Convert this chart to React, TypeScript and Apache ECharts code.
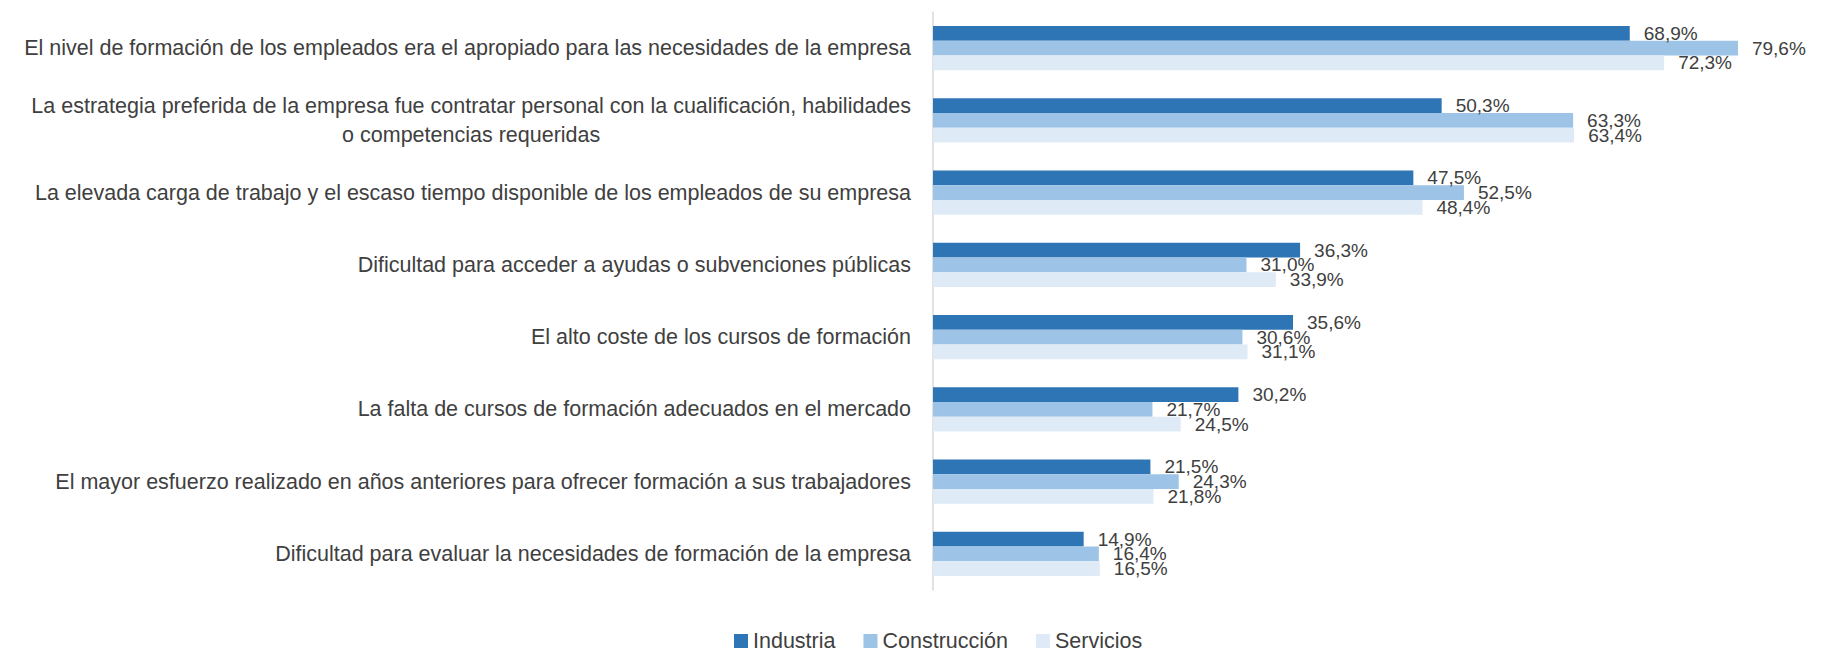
import React, { useEffect, useRef } from "react";
import * as echarts from "echarts";

const categories = [
  "El nivel de formación de los empleados era el apropiado para las necesidades de la empresa",
  "La estrategia preferida de la empresa fue contratar personal con la cualificación, habilidades\no competencias requeridas",
  "La elevada carga de trabajo y el escaso tiempo disponible de los empleados de su empresa",
  "Dificultad para acceder a ayudas o subvenciones públicas",
  "El alto coste de los cursos de formación",
  "La falta de cursos de formación adecuados en el mercado",
  "El mayor esfuerzo realizado en años anteriores para ofrecer formación a sus trabajadores",
  "Dificultad para evaluar la necesidades de formación de la empresa",
];

const industria = [68.9, 50.3, 47.5, 36.3, 35.6, 30.2, 21.5, 14.9];
const construccion = [79.6, 63.3, 52.5, 31.0, 30.6, 21.7, 24.3, 16.4];
const servicios = [72.3, 63.4, 48.4, 33.9, 31.1, 24.5, 21.8, 16.5];

const seriesNames = ["Industria", "Construcción", "Servicios"];
const colors = ["#2E75B6", "#9DC3E6", "#DEEBF7"];

const FONT = "Liberation Sans";
const TEXT = "#404040";

export default function App() {
  const ref = useRef<HTMLDivElement>(null);
  useEffect(() => {
    if (!ref.current) return;
    const chart = echarts.init(ref.current, null, { renderer: "svg" });
    const mk = (name: string, data: number[], color: string) => ({
      name,
      type: "bar",
      data,
      barGap: "0%",
      barCategoryGap: "39%",
      itemStyle: { color },
      label: {
        show: true,
        position: "right",
        distance: 14,
        color: TEXT,
        fontFamily: FONT,
        fontSize: 19,
        formatter: (p: any) => p.value.toFixed(1).replace(".", ",") + "%",
      },
    });
    chart.setOption({
      animation: false,
      textStyle: { fontFamily: FONT },
      grid: { left: 933, right: 83, top: 12, bottom: 62, containLabel: false },
      legend: {
        left: 734,
        top: 630,
        padding: 0,
        itemWidth: 14,
        itemHeight: 14,
        itemGap: 28,
        icon: "rect",
        textStyle: { color: TEXT, fontSize: 21.5, fontFamily: FONT },
        data: seriesNames,
      },
      xAxis: {
        type: "value",
        min: 0,
        max: 80,
        show: false,
        splitLine: { show: false },
      },
      yAxis: {
        type: "category",
        inverse: true,
        data: categories,
        axisLine: { show: true, lineStyle: { color: "#D9D9D9", width: 1.5 } },
        axisTick: { show: false },
        axisLabel: {
          margin: 22,
          align: "right",
          color: TEXT,
          fontFamily: FONT,
          fontSize: 21.5,
          lineHeight: 29,
          formatter: (v: string) =>
            v
              .split("\n")
              .map((l) => "{c|" + l + "}")
              .join("\n"),
          rich: {
            c: {
              align: "center",
              color: TEXT,
              fontFamily: FONT,
              fontSize: 21.5,
              lineHeight: 29,
            },
          },
        },
      },
      series: [
        mk(seriesNames[0], industria, colors[0]),
        mk(seriesNames[1], construccion, colors[1]),
        mk(seriesNames[2], servicios, colors[2]),
      ],
    });
    return () => chart.dispose();
  }, []);
  return (
    <div
      ref={ref}
      style={{ position: "absolute", left: 0, top: 0, width: 1825, height: 652 }}
    />
  );
}
